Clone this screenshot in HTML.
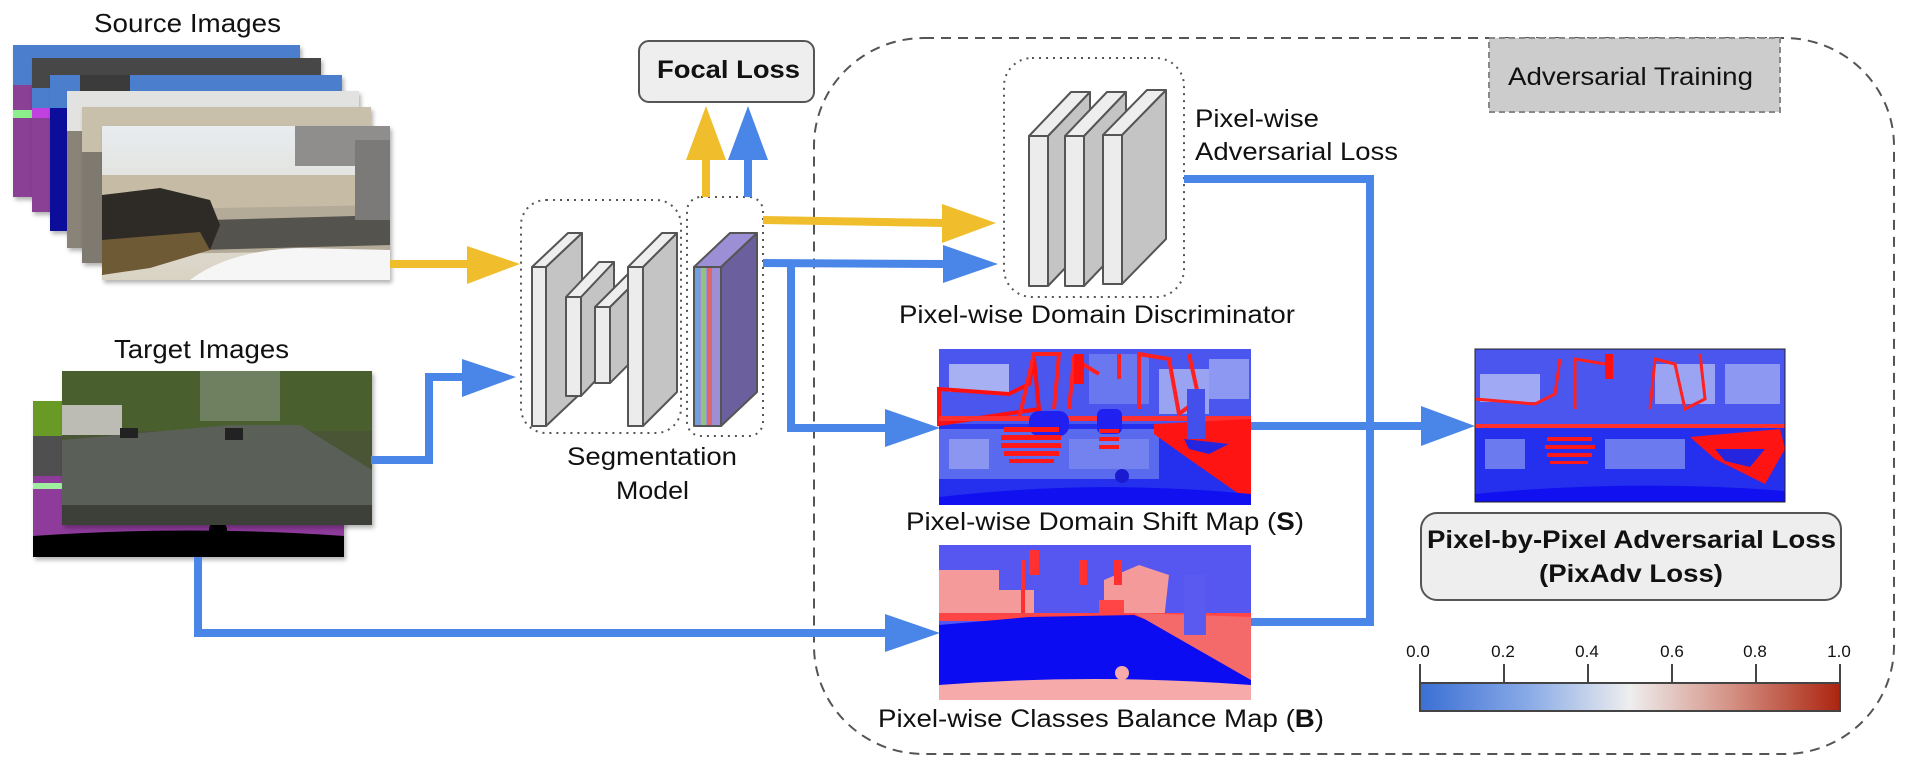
<!DOCTYPE html>
<html><head><meta charset="utf-8"><style>
html,body{margin:0;padding:0;background:#fff;}
svg{display:block;}
text{font-family:"Liberation Sans",Arial,sans-serif;fill:#111;}
</style></head><body>
<svg width="1908" height="763" viewBox="0 0 1908 763" xmlns="http://www.w3.org/2000/svg">
<defs>
<linearGradient id="cb" x1="0" x2="1" y1="0" y2="0">
<stop offset="0" stop-color="#3b6fd4"/><stop offset="0.25" stop-color="#86a8e6"/>
<stop offset="0.5" stop-color="#eeeeee"/><stop offset="0.75" stop-color="#d38d80"/>
<stop offset="1" stop-color="#ac2410"/></linearGradient>
<linearGradient id="sky" x1="0" x2="0" y1="0" y2="1"><stop offset="0" stop-color="#e8ecef"/><stop offset="1" stop-color="#d9d3c4"/></linearGradient>
<filter id="sh" x="-5%" y="-5%" width="115%" height="120%"><feDropShadow dx="2" dy="3" stdDeviation="2" flood-color="#000" flood-opacity="0.3"/></filter>
</defs>

<rect x="814" y="38" width="1080" height="716" rx="110" ry="108" fill="none" stroke="#555" stroke-width="2" stroke-dasharray="10,7"/>

<rect x="1489" y="38" width="291" height="74" fill="#cccccc" stroke="#888" stroke-width="2" stroke-dasharray="6,4"/>
<text x="1508" y="85" font-size="25" textLength="245" lengthAdjust="spacingAndGlyphs">Adversarial Training</text>

<text x="94" y="32" font-size="26" textLength="187" lengthAdjust="spacingAndGlyphs">Source Images</text>
<g filter="url(#sh)">
<rect x="13" y="45" width="287" height="152" fill="#8a3f94"/>
<rect x="13" y="45" width="287" height="40" fill="#4c7fce"/>
<rect x="13" y="110" width="40" height="8" fill="#8bf08b"/>
</g>
<g filter="url(#sh)">
<rect x="32" y="58" width="289" height="154" fill="#8a3f94"/>
<rect x="32" y="58" width="289" height="30" fill="#474747"/>
<rect x="32" y="88" width="289" height="20" fill="#4c7fce"/>
<rect x="32" y="108" width="20" height="10" fill="#c040e0"/>
</g>
<g filter="url(#sh)">
<rect x="50" y="75" width="292" height="156" fill="#0b0b9c"/>
<rect x="50" y="75" width="292" height="33" fill="#4c7fce"/>
<rect x="80" y="75" width="50" height="20" fill="#3a3a3a"/>
</g>
<g filter="url(#sh)">
<rect x="67" y="91" width="292" height="157" fill="#8a8478"/>
<rect x="67" y="91" width="292" height="40" fill="#e2e2e0"/>
</g>
<g filter="url(#sh)">
<rect x="82" y="107" width="289" height="156" fill="#7f7a70"/>
<rect x="82" y="107" width="289" height="45" fill="#c9c0ac"/>
</g>
<g filter="url(#sh)">
<rect x="102" y="126" width="288" height="154" fill="url(#sky)"/>
<rect x="102" y="175" width="288" height="40" fill="#c6bca6"/>
<polygon points="102,210 390,205 390,250 102,255" fill="#b3aa98"/>
<polygon points="210,220 390,215 390,245 200,250" fill="#55524d"/>
<rect x="295" y="126" width="95" height="40" fill="#8f8e8c"/>
<polygon points="102,195 160,188 210,200 220,225 210,250 150,265 102,275" fill="#2e2b27"/>
<polygon points="102,240 200,232 210,250 150,268 102,275" fill="#6e5a36"/>
<rect x="355" y="140" width="35" height="80" fill="#7c7a78"/>
<path d="M 190 280 Q 230 250 300 248 L 390 250 L 390 280 Z" fill="#f6f6f6"/>
</g>

<text x="114" y="358" font-size="26" textLength="175" lengthAdjust="spacingAndGlyphs">Target Images</text>
<g filter="url(#sh)">
<rect x="33" y="401" width="311" height="156" fill="#8e3a9c"/>
<rect x="33" y="401" width="30" height="35" fill="#6a9a28"/>
<rect x="33" y="436" width="30" height="40" fill="#505050"/>
<rect x="33" y="483" width="30" height="6" fill="#9ef09e"/>
<path d="M 33 536 Q 190 525 344 536 L 344 557 L 33 557 Z" fill="#000"/>
<circle cx="218" cy="530" r="9" fill="#000"/>
</g>
<g filter="url(#sh)">
<rect x="62" y="371" width="310" height="154" fill="#4a5536"/>
<rect x="62" y="371" width="310" height="60" fill="#48602f"/>
<rect x="200" y="371" width="80" height="50" fill="#6e8060"/>
<rect x="62" y="405" width="60" height="30" fill="#bcbcb4"/>
<polygon points="62,440 230,425 300,425 372,470 372,525 62,525" fill="#5a5e58"/>
<polygon points="62,505 372,505 372,525 62,525" fill="#3c3f38"/>
<rect x="120" y="428" width="18" height="10" fill="#222"/>
<rect x="225" y="428" width="18" height="12" fill="#222"/>
</g>

<line x1="390" y1="264" x2="470" y2="264" stroke="#f0be2c" stroke-width="8"/>
<polygon points="467,246 520,264 467,284" fill="#f0be2c"/>
<polyline points="371,460 429,460 429,377 465,377" fill="none" stroke="#4a86e8" stroke-width="8"/>
<polygon points="462,359 516,377 462,397" fill="#4a86e8"/>

<rect x="521" y="200" width="160" height="233" rx="25" fill="none" stroke="#555" stroke-width="2" stroke-dasharray="2,5"/>
<rect x="687" y="197" width="76" height="239" rx="14" fill="none" stroke="#555" stroke-width="2" stroke-dasharray="2,5"/>
<g stroke="#555" stroke-width="2" stroke-linejoin="round">
<polygon points="546,267 582,233 582,392 546,426" fill="#c4c4c4"/>
<polygon points="532,267 568,233 582,233 546,267" fill="#eeeeee"/>
<rect x="532" y="267" width="14" height="159" fill="#ececec"/>
<polygon points="581,297 614,262 614,361 581,396" fill="#c4c4c4"/>
<polygon points="566,297 599,262 614,262 581,297" fill="#eeeeee"/>
<rect x="566" y="297" width="15" height="99" fill="#ececec"/>
<polygon points="610,307 643,274 643,350 610,383" fill="#c4c4c4"/>
<polygon points="595,307 628,274 643,274 610,307" fill="#eeeeee"/>
<rect x="595" y="307" width="15" height="76" fill="#ececec"/>
<polygon points="643,267 677,233 677,392 643,426" fill="#c4c4c4"/>
<polygon points="628,267 662,233 677,233 643,267" fill="#eeeeee"/>
<rect x="628" y="267" width="15" height="159" fill="#ececec"/>
</g>
<g stroke="#555" stroke-width="2" stroke-linejoin="round">
<polygon points="721,267 757,233 757,392 721,426" fill="#6c5f9e"/>
<polygon points="694,267 730,233 757,233 721,267" fill="#9c8fd6"/>
<rect x="694" y="267" width="27" height="159" fill="#9c8fd6"/>
</g>
<rect x="695" y="268" width="5" height="157" fill="#6fa0e0"/>
<rect x="701" y="268" width="5" height="157" fill="#8fc47f"/>
<rect x="707" y="268" width="5" height="157" fill="#e06666"/>
<rect x="713" y="268" width="7" height="157" fill="#9c8fd6"/>
<text x="567" y="465" font-size="25" textLength="170" lengthAdjust="spacingAndGlyphs">Segmentation</text>
<text x="616" y="499" font-size="25" textLength="73" lengthAdjust="spacingAndGlyphs">Model</text>

<rect x="639" y="41" width="175" height="61" rx="10" fill="#eeeeee" stroke="#555" stroke-width="2"/>
<text x="657" y="78" font-size="25" font-weight="bold" textLength="143" lengthAdjust="spacingAndGlyphs">Focal Loss</text>
<line x1="706" y1="197" x2="706" y2="155" stroke="#f0be2c" stroke-width="8"/>
<polygon points="686,160 706,106 726,160" fill="#f0be2c"/>
<line x1="748" y1="197" x2="748" y2="155" stroke="#4a86e8" stroke-width="8"/>
<polygon points="728,160 748,106 768,160" fill="#4a86e8"/>

<line x1="763" y1="220" x2="945" y2="223" stroke="#f0be2c" stroke-width="8"/>
<polygon points="942,204 996,223 942,243" fill="#f0be2c"/>
<line x1="763" y1="263" x2="945" y2="264" stroke="#4a86e8" stroke-width="8"/>
<polygon points="943,245 998,264 943,283" fill="#4a86e8"/>
<polyline points="791,263 791,428 888,428" fill="none" stroke="#4a86e8" stroke-width="8"/>
<polygon points="885,409 940,428 885,447" fill="#4a86e8"/>
<polyline points="198,557 198,633 888,633" fill="none" stroke="#4a86e8" stroke-width="8"/>
<polygon points="885,614 940,633 885,652" fill="#4a86e8"/>

<rect x="1004" y="58" width="180" height="239" rx="28" fill="none" stroke="#555" stroke-width="2" stroke-dasharray="2,5"/>
<g stroke="#555" stroke-width="2" stroke-linejoin="round">
<polygon points="1048,136 1090,92 1090,242 1048,286" fill="#c4c4c4"/>
<polygon points="1029,136 1071,92 1090,92 1048,136" fill="#eeeeee"/>
<rect x="1029" y="136" width="19" height="150" fill="#ececec"/>
<polygon points="1084,136 1126,92 1126,242 1084,286" fill="#c4c4c4"/>
<polygon points="1065,136 1107,92 1126,92 1084,136" fill="#eeeeee"/>
<rect x="1065" y="136" width="19" height="150" fill="#ececec"/>
<polygon points="1122,135 1166,90 1166,239 1122,284" fill="#c4c4c4"/>
<polygon points="1103,135 1147,90 1166,90 1122,135" fill="#eeeeee"/>
<rect x="1103" y="135" width="19" height="149" fill="#ececec"/>
</g>
<text x="899" y="323" font-size="25" textLength="396" lengthAdjust="spacingAndGlyphs">Pixel-wise Domain Discriminator</text>
<text x="1195" y="127" font-size="25" textLength="124" lengthAdjust="spacingAndGlyphs">Pixel-wise</text>
<text x="1195" y="160" font-size="25" textLength="203" lengthAdjust="spacingAndGlyphs">Adversarial Loss</text>

<polyline points="1184,179 1370,179 1370,622 1250,622" fill="none" stroke="#4a86e8" stroke-width="8"/>
<line x1="1251" y1="426" x2="1425" y2="426" stroke="#4a86e8" stroke-width="8"/>
<polygon points="1421,406 1475,426 1421,446" fill="#4a86e8"/>

<g transform="translate(939,349)">
<rect width="312" height="156" fill="#2430ee"/>
<rect y="0" width="312" height="75" fill="#4a56ee"/>
<rect x="10" y="15" width="60" height="28" fill="#a8b0f4"/>
<rect x="150" y="5" width="60" height="50" fill="#6a78f0"/>
<rect x="220" y="20" width="50" height="45" fill="#9aa2f2"/>
<rect x="270" y="10" width="40" height="40" fill="#8c98f2"/>
<rect x="0" y="80" width="220" height="50" fill="#5a6aee"/>
<rect x="10" y="90" width="40" height="30" fill="#8a96f0"/>
<rect x="130" y="90" width="80" height="30" fill="#7482f0"/>
<path d="M0 40 L70 45 L90 35 L95 10 L100 60 L0 75 Z" fill="none" stroke="#ff1010" stroke-width="4"/>
<path d="M80 70 L95 5 L120 5 L115 60 M130 60 L135 10 L160 25 M180 5 L180 30 M200 60 L200 5 L230 10 L240 65 L260 50 L250 5" fill="none" stroke="#ff2020" stroke-width="4"/>
<rect x="135" y="5" width="10" height="30" fill="#ff1010"/>
<rect x="0" y="67" width="312" height="5" fill="#ff3030"/>
<rect x="90" y="62" width="40" height="25" rx="10" fill="#2020f0"/>
<rect x="158" y="60" width="25" height="25" rx="6" fill="#2020f0"/>
<g fill="#ff1818">
<rect x="65" y="78" width="55" height="5"/><rect x="62" y="86" width="60" height="5"/><rect x="62" y="94" width="60" height="5"/><rect x="65" y="102" width="55" height="5"/><rect x="70" y="110" width="45" height="4"/><rect x="160" y="80" width="20" height="4"/><rect x="160" y="88" width="20" height="4"/><rect x="160" y="96" width="20" height="4"/>
</g>
<polygon points="215,75 312,70 312,150 300,145 250,110 215,85" fill="#ff1414"/>
<polygon points="245,90 290,95 270,105 250,100" fill="#2525e0"/>
<rect x="248" y="40" width="18" height="50" fill="#4450ec"/>
<path d="M0 148 Q 156 130 312 145 L312 156 L0 156 Z" fill="#1010f0"/>
<circle cx="183" cy="127" r="7" fill="#1a1ad0"/>
</g>
<text x="906" y="530" font-size="25" textLength="398" lengthAdjust="spacingAndGlyphs">Pixel-wise Domain Shift Map (<tspan font-weight="bold">S</tspan>)</text>

<g transform="translate(939,545)">
<rect width="312" height="155" fill="#5656f0"/>
<rect x="0" y="25" width="60" height="45" fill="#f49a9a"/>
<rect x="55" y="45" width="40" height="25" fill="#f49a9a"/>
<polygon points="165,35 200,20 230,30 225,75 165,75" fill="#f49a9a"/>
<rect x="90" y="5" width="10" height="25" fill="#ff3030"/>
<rect x="140" y="15" width="8" height="25" fill="#ff3030"/>
<rect x="175" y="15" width="8" height="25" fill="#ff3030"/>
<rect x="82" y="15" width="4" height="60" fill="#ff3030"/>
<rect x="0" y="68" width="312" height="8" fill="#ff4545"/>
<rect x="160" y="55" width="25" height="25" fill="#ff4545"/>
<polygon points="0,80 90,72 195,70 312,115 312,140 0,140" fill="#0c0cf2"/>
<polygon points="195,68 312,72 312,135" fill="#f46a6a"/>
<rect x="245" y="30" width="22" height="60" fill="#5a5af0"/>
<path d="M0 140 Q 156 128 312 140 L312 155 L0 155 Z" fill="#f7aaaa"/>
<circle cx="183" cy="128" r="7" fill="#f7aaaa"/>
</g>
<text x="878" y="727" font-size="25" textLength="446" lengthAdjust="spacingAndGlyphs">Pixel-wise Classes Balance Map (<tspan font-weight="bold">B</tspan>)</text>

<g transform="translate(1475,349)">
<rect width="310" height="153" fill="#2430ee"/>
<rect width="310" height="75" fill="#4a56ee"/>
<rect x="5" y="25" width="60" height="28" fill="#a0aaf4"/>
<rect x="180" y="15" width="60" height="40" fill="#9aa4f2"/>
<rect x="250" y="15" width="55" height="40" fill="#8c98f2"/>
<rect x="10" y="90" width="40" height="30" fill="#6c7af0"/>
<rect x="130" y="90" width="80" height="30" fill="#6c7af0"/>
<path d="M0 50 L60 55 L80 45 L85 10 M100 60 L100 10 L130 15 M175 60 L180 10 L200 15 L210 60 L230 50 L225 5" fill="none" stroke="#ff2020" stroke-width="3"/>
<rect x="130" y="5" width="8" height="25" fill="#ff1010"/>
<rect x="0" y="75" width="310" height="4" fill="#ff3030"/>
<g fill="#ff1818"><rect x="72" y="88" width="45" height="4"/><rect x="70" y="96" width="50" height="4"/><rect x="72" y="104" width="45" height="4"/><rect x="75" y="112" width="38" height="3"/></g>
<polygon points="215,88 305,80 310,100 290,135 240,110" fill="#ff1414"/>
<polygon points="240,100 290,100 275,118 250,112" fill="#2525e0"/>
<path d="M0 145 Q 155 130 310 142 L310 153 L0 153 Z" fill="#1010f0"/>
</g>
<rect x="1475" y="349" width="310" height="153" fill="none" stroke="#222" stroke-width="1"/>

<rect x="1421" y="513" width="420" height="87" rx="16" fill="#eeeeee" stroke="#555" stroke-width="2"/>
<text x="1427" y="548" font-size="25" font-weight="bold" textLength="409" lengthAdjust="spacingAndGlyphs">Pixel-by-Pixel Adversarial Loss</text>
<text x="1539" y="582" font-size="25" font-weight="bold" textLength="184" lengthAdjust="spacingAndGlyphs">(PixAdv Loss)</text>

<rect x="1420" y="683" width="420" height="28" fill="url(#cb)" stroke="#444" stroke-width="2"/>
<g stroke="#444" stroke-width="2">
<line x1="1420" y1="664" x2="1420" y2="683"/><line x1="1504" y1="664" x2="1504" y2="683"/><line x1="1588" y1="664" x2="1588" y2="683"/><line x1="1672" y1="664" x2="1672" y2="683"/><line x1="1756" y1="664" x2="1756" y2="683"/><line x1="1840" y1="664" x2="1840" y2="683"/>
</g>
<g font-size="17" text-anchor="middle">
<text x="1418" y="657">0.0</text><text x="1503" y="657">0.2</text><text x="1587" y="657">0.4</text><text x="1672" y="657">0.6</text><text x="1755" y="657">0.8</text><text x="1839" y="657">1.0</text>
</g>
</svg>
</body></html>
